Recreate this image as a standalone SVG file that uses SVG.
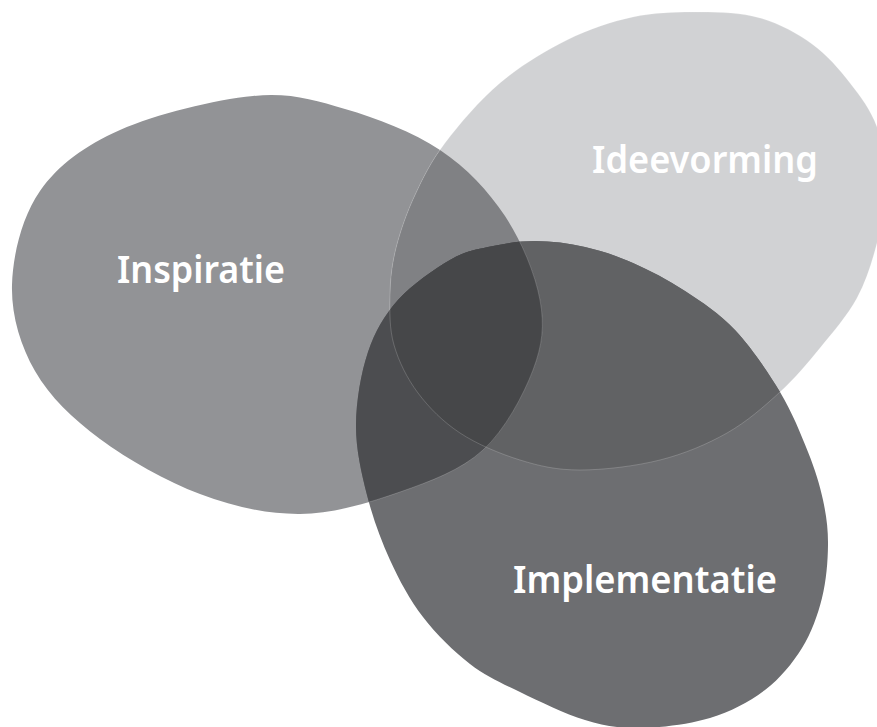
<svg xmlns="http://www.w3.org/2000/svg" xmlns:xlink="http://www.w3.org/1999/xlink" width="877" height="727" viewBox="0 0 877 727">
<style>
.label{font-family:"Noto Sans","Open Sans","Liberation Sans",sans-serif;font-weight:600;font-size:38px;fill:#ffffff;text-anchor:middle}
.seam{fill:none;stroke:#ffffff;stroke-opacity:0.3;stroke-width:0.6}
</style>
<defs>
<path id="pInsp" d="M253,96 C290.5,92.5 313.8,100 345,109 C376.2,118 413.3,132.2 440,150 C466.7,167.8 488.3,191 505,216 C521.7,241 535.3,274.3 540,300 C544.7,325.7 542.5,345 533,370 C523.5,395 505.2,429.7 483,450 C460.8,470.3 430.5,481.3 400,492 C369.5,502.7 333.3,513.7 300,514 C266.7,514.3 233.3,506.5 200,494 C166.7,481.5 127.5,459.5 100,439 C72.5,418.5 49.7,396.7 35,371 C20.3,345.3 11.2,315 12,285 C12.8,255 22,216.8 40,191 C58,165.2 84.5,145.8 120,130 C155.5,114.2 215.5,99.5 253,96 Z"/>
<path id="pIdee" d="M700,12 C721.2,12.2 741.3,12.7 760,18 C778.7,23.3 797,33.2 812,44 C827,54.8 839.2,69.2 850,83 C860.8,96.8 870.8,110 877,127 C883.2,144 887,165.7 887,185 C887,204.3 882,224.2 877,243 C872,261.8 866.5,280.5 857,298 C847.5,315.5 832.8,332.3 820,348 C807.2,363.7 795.5,377.8 780,392 C764.5,406.2 747,421.7 727,433 C707,444.3 684.5,453.8 660,460 C635.5,466.2 603.3,470 580,470 C556.7,470 540,466.2 520,460 C500,453.8 477,444.2 460,433 C443,421.8 429,407.7 418,393 C407,378.3 398.7,361.3 394,345 C389.3,328.7 389.7,311.2 390,295 C390.3,278.8 391.8,264.7 396,248 C400.2,231.3 406.8,212.5 415,195 C423.2,177.5 430.8,161.7 445,143 C459.2,124.3 479.7,100.2 500,83 C520.3,65.8 544.8,51 567,40 C589.2,29 610.8,21.7 633,17 C655.2,12.3 678.8,11.8 700,12 Z"/>
<path id="pImpl" d="M535,241 C551.2,241 568.7,243.3 585,247 C601.3,250.7 616.3,255.7 633,263 C649.7,270.3 668,279.8 685,291 C702,302.2 719.2,313.2 735,330 C750.8,346.8 767.8,371.7 780,392 C792.2,412.3 800.8,434 808,452 C815.2,470 819.7,484.5 823,500 C826.3,515.5 828.2,528.7 828,545 C827.8,561.3 826.3,580.8 822,598 C817.7,615.2 811.5,632.7 802,648 C792.5,663.3 780.3,678.3 765,690 C749.7,701.7 730.8,711.7 710,718 C689.2,724.3 660.8,727.7 640,728 C619.2,728.3 605,726 585,720 C565,714 539.2,701.3 520,692 C500.8,682.7 486.2,676.5 470,664 C453.8,651.5 436.3,634.3 423,617 C409.7,599.7 399.3,580.3 390,560 C380.7,539.7 372.7,517.5 367,495 C361.3,472.5 355.8,448.8 356,425 C356.2,401.2 361,372.8 368,352 C375,331.2 384.3,315.3 398,300 C411.7,284.7 435,268.8 450,260 C465,251.2 473.8,250.2 488,247 C502.2,243.8 518.8,241 535,241 Z"/>
<clipPath id="cInsp"><use xlink:href="#pInsp"/></clipPath>
<clipPath id="cIdee"><use xlink:href="#pIdee"/></clipPath>
<clipPath id="cImpl"><use xlink:href="#pImpl"/></clipPath>
</defs>
<rect width="877" height="727" fill="#ffffff"/>
<g id="node-inspiratie">
<use xlink:href="#pInsp" fill="#929396"/>
<text class="label" x="201" y="283" textLength="168" lengthAdjust="spacingAndGlyphs">Inspiratie</text>
</g>
<g id="node-ideevorming">
<use xlink:href="#pIdee" fill="#d1d2d4"/>
<text class="label" x="705" y="173" textLength="226" lengthAdjust="spacingAndGlyphs">Ideevorming</text>
</g>
<g id="node-implementatie">
<use xlink:href="#pImpl" fill="#6d6e71"/>
<text class="label" x="645" y="593" textLength="264" lengthAdjust="spacingAndGlyphs">Implementatie</text>
</g>
<g id="overlaps">
<use xlink:href="#pInsp" fill="#808184" clip-path="url(#cIdee)"/>
<use xlink:href="#pIdee" fill="#616264" clip-path="url(#cImpl)"/>
<use xlink:href="#pInsp" fill="#4c4d50" clip-path="url(#cImpl)"/>
<g clip-path="url(#cIdee)"><use xlink:href="#pInsp" fill="#464749" clip-path="url(#cImpl)"/></g>
<use xlink:href="#pIdee" class="seam"/>
<use xlink:href="#pInsp" class="seam" clip-path="url(#cImpl)"/>
</g>
<g id="connectors"/>
</svg>
